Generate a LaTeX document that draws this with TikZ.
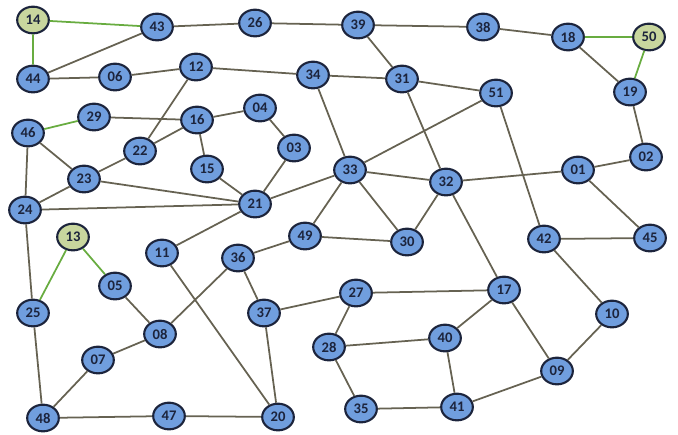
\documentclass[tikz,border=0pt]{standalone}
\usepackage{fontspec}
\setmainfont{Carlito}
\usepackage{xcolor}
\usepackage{tikz}
\usetikzlibrary{shapes,positioning}

\definecolor{vblue}{RGB}{112,158,222}
\definecolor{vgreen}{RGB}{200,214,158}
\definecolor{vline}{RGB}{28,36,60}
\definecolor{eline}{RGB}{102,98,82}
\definecolor{egreen}{RGB}{104,172,64}

\begin{document}
\begin{tikzpicture}[x=0.03cm, y=-0.03cm,
    vtx/.style={ellipse, draw=vline, line width=1.8pt, fill=vblue,
        minimum width=0.95cm, minimum height=0.8cm, inner sep=0pt,
        font=\fontsize{12.5}{14}\selectfont\bfseries, text=vline},
    gvtx/.style={vtx, fill=vgreen},
    edge/.style={draw=eline, line width=1.5pt},
    gedge/.style={draw=egreen, line width=1.5pt}]
    \useasboundingbox (0,0) rectangle (678,434);

    % top row
    \node [gvtx] (n14) at (33,20) {14};
    \node [vtx] (n43) at (157,27) {43};
    \node [vtx] (n26) at (255,23) {26};
    \node [vtx] (n39) at (358,25) {39};
    \node [vtx] (n38) at (483,27) {38};
    \node [vtx] (n18) at (568,37) {18};
    \node [gvtx] (n50) at (649,37) {50};
    \node [vtx] (n44) at (33,79) {44};
    \node [vtx] (n06) at (115,77) {06};
    \node [vtx] (n12) at (196,67) {12};
    \node [vtx] (n34) at (313,75) {34};
    \node [vtx] (n31) at (402,79) {31};
    \node [vtx] (n51) at (496,93) {51};
    \node [vtx] (n19) at (630,92) {19};

    % middle
    \node [vtx] (n29) at (94,117) {29};
    \node [vtx] (n16) at (197,120) {16};
    \node [vtx] (n04) at (260,108) {04};
    \node [vtx] (n46) at (28,133) {46};
    \node [vtx] (n22) at (140,151) {22};
    \node [vtx] (n03) at (294,148) {03};
    \node [vtx] (n02) at (646,157) {02};
    \node [vtx] (n15) at (207,169) {15};
    \node [vtx] (n33) at (350,170) {33};
    \node [vtx] (n01) at (578,170) {01};
    \node [vtx] (n23) at (84,179) {23};
    \node [vtx] (n32) at (446,182) {32};
    \node [vtx] (n21) at (255,204) {21};
    \node [vtx] (n24) at (25,210) {24};

    % lower part
    \node [gvtx] (n13) at (73,237) {13};
    \node [vtx] (n49) at (305,236) {49};
    \node [vtx] (n30) at (407,242) {30};
    \node [vtx] (n42) at (544,239) {42};
    \node [vtx] (n45) at (650,238) {45};
    \node [vtx] (n11) at (162,253) {11};
    \node [vtx] (n36) at (238,258) {36};
    \node [vtx] (n05) at (115,286) {05};
    \node [vtx] (n17) at (504,290) {17};
    \node [vtx] (n27) at (356,293) {27};
    \node [vtx] (n25) at (33,313) {25};
    \node [vtx] (n37) at (264,313) {37};
    \node [vtx] (n10) at (612,314) {10};
    \node [vtx] (n08) at (160,334) {08};
    \node [vtx] (n40) at (445,338) {40};
    \node [vtx] (n28) at (329,347) {28};
    \node [vtx] (n07) at (98,360) {07};
    \node [vtx] (n09) at (557,371) {09};
    \node [vtx] (n35) at (361,409) {35};
    \node [vtx] (n41) at (457,407) {41};
    \node [vtx] (n48) at (43,418) {48};
    \node [vtx] (n47) at (169,416) {47};
    \node [vtx] (n20) at (278,417) {20};

    \draw [gedge] (n14) -- (n43) (n14) -- (n44) (n18) -- (n50) (n50) -- (n19)
        (n46) -- (n29) (n13) -- (n25) (n13) -- (n05);
    \draw [edge] (n44) -- (n43) (n44) -- (n06) (n06) -- (n12) (n12) -- (n34)
        (n12) -- (n22) (n43) -- (n26) (n26) -- (n39) (n39) -- (n38)
        (n38) -- (n18) (n18) -- (n19) (n19) -- (n02) (n02) -- (n01)
        (n01) -- (n32) (n01) -- (n45) (n39) -- (n31) (n34) -- (n31)
        (n31) -- (n51) (n31) -- (n32) (n34) -- (n33) (n51) -- (n33)
        (n51) -- (n42) (n42) -- (n45) (n42) -- (n10) (n10) -- (n09)
        (n17) -- (n09) (n32) -- (n17) (n17) -- (n27) (n17) -- (n40)
        (n40) -- (n28) (n40) -- (n41) (n41) -- (n09) (n35) -- (n41)
        (n28) -- (n35) (n27) -- (n28) (n27) -- (n37) (n37) -- (n36)
        (n37) -- (n20) (n36) -- (n49) (n36) -- (n08) (n49) -- (n33)
        (n49) -- (n30) (n33) -- (n30) (n30) -- (n32) (n33) -- (n32)
        (n33) -- (n21) (n21) -- (n11) (n11) -- (n20) (n21) -- (n24)
        (n21) -- (n23) (n21) -- (n15) (n21) -- (n03) (n03) -- (n04)
        (n04) -- (n16) (n16) -- (n15) (n16) -- (n22) (n16) -- (n29)
        (n46) -- (n23) (n46) -- (n24) (n23) -- (n22) (n23) -- (n24)
        (n24) -- (n25) (n05) -- (n08) (n08) -- (n07) (n07) -- (n48)
        (n25) -- (n48) (n48) -- (n47) (n47) -- (n20);
\end{tikzpicture}
\end{document}
